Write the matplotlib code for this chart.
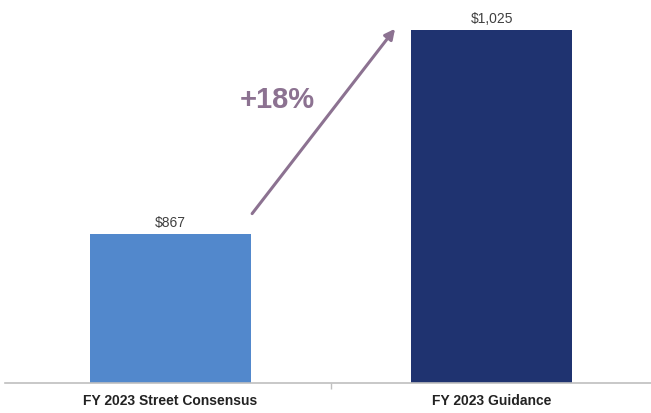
import matplotlib.pyplot as plt
from matplotlib.ticker import FixedLocator

# FY 2023 consensus vs. guidance ($M)
categories = ['FY 2023 Street Consensus', 'FY 2023 Guidance']
values = [867, 1025]
value_labels = ['$867', '$1,025']
growth_label = '+18%'

bar_colors = ['#5288CC', '#1F3370']
arrow_color = '#8C7291'

plt.rcParams['font.family'] = ['Liberation Sans', 'DejaVu Sans']

fig = plt.figure(figsize=(6.51, 4.14), dpi=100)
ax = fig.add_axes([0.008, 0.0725, 0.992, 0.9275])

x = list(range(len(categories)))
ax.bar(x, values, width=0.5, color=bar_colors, zorder=2)

for xi, v, lab in zip(x, values, value_labels):
    ax.text(xi, v + 4, lab, ha='center', va='bottom', fontsize=10, color='#404040')

ax.set_xlim(-0.512, 1.494)
ax.set_ylim(752, 1049)

# growth arrow between the bars
ax.annotate('', xy=(0.699, 1026), xytext=(0.255, 883),
            arrowprops=dict(arrowstyle='-|>', color=arrow_color, lw=2.2,
                            mutation_scale=15, shrinkA=0, shrinkB=0))
ax.text(0.332, 972, growth_label, ha='center', va='center', fontsize=21,
        fontweight='bold', color=arrow_color)

for side in ['top', 'right', 'left']:
    ax.spines[side].set_visible(False)
ax.spines['bottom'].set_color('#BFBFBF')
ax.spines['bottom'].set_linewidth(1.2)
ax.set_yticks([])

ax.set_xticks(x)
ax.set_xticklabels(categories, fontsize=10, fontweight='bold', color='#222222')
ax.tick_params(axis='x', which='major', length=0, pad=7)
ax.xaxis.set_minor_locator(FixedLocator([0.5]))
ax.tick_params(axis='x', which='minor', length=4, color='#BFBFBF', width=1)

fig.savefig('out.png', dpi=100)
